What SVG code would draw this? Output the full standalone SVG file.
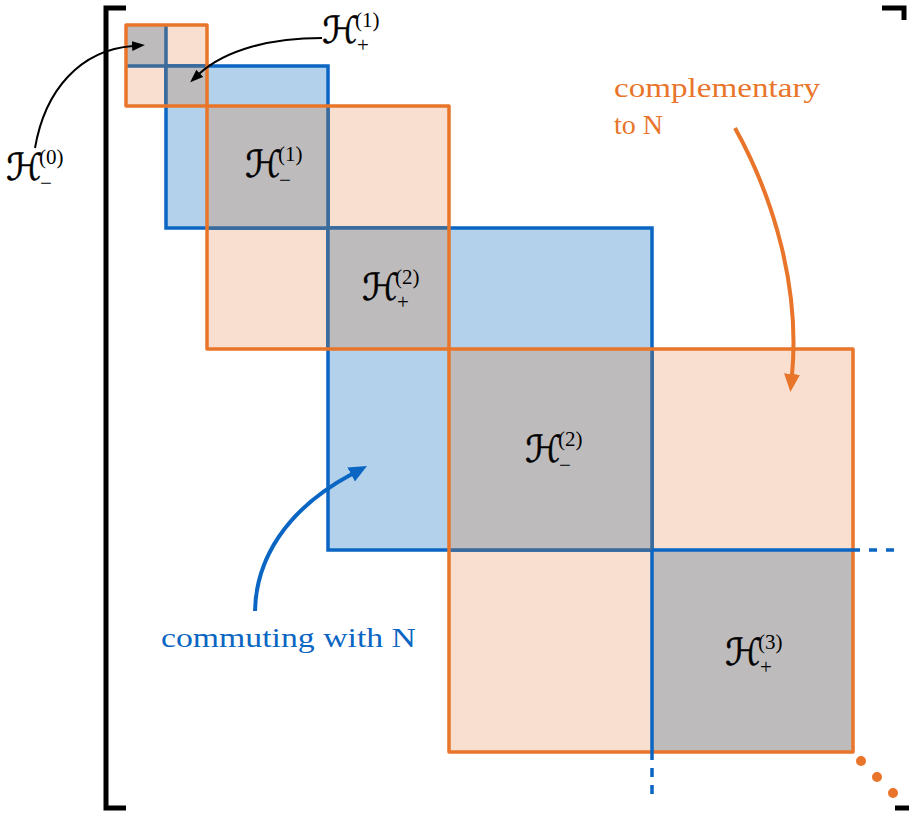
<svg xmlns="http://www.w3.org/2000/svg" width="909" height="816" viewBox="0 0 909 816">
<defs>
<marker id="mb" markerUnits="userSpaceOnUse" markerWidth="20" markerHeight="16" refX="1" refY="8" orient="auto"><path d="M0,0 L18,8 L0,16 z" fill="#0a66c2"/></marker>
<marker id="mo" markerUnits="userSpaceOnUse" markerWidth="20" markerHeight="16" refX="1" refY="8" orient="auto"><path d="M0,0 L18,8 L0,16 z" fill="#e8752a"/></marker>
<marker id="mk" markerUnits="userSpaceOnUse" markerWidth="14" markerHeight="12" refX="1" refY="5" orient="auto"><path d="M0,0 L13,5 L0,10 z" fill="#000"/></marker>
</defs>
<style>
.peach{fill:#f8dfcf}
.lblue{fill:#b3d1ea;stroke:#0a66c2;stroke-width:3.5}
.gray{fill:#bdbbbc}
.muted{stroke:#3a6b9b;stroke-width:3.5;fill:none}
.ostroke{fill:none;stroke:#e8752a;stroke-width:3.5;stroke-linejoin:round}
.bline{stroke:#0a66c2;stroke-width:3.5;fill:none}
.cal{font-family:'DejaVu Serif','DejaVu Sans',serif;font-size:37px;fill:#000;stroke:#000;stroke-width:0.5}
.sup{font-family:'Liberation Serif',serif;font-size:21px;fill:#000}
.sub{font-family:'Liberation Serif',serif;font-size:21px;fill:#000}
.rm{font-family:'Liberation Serif',serif;font-size:28px}
</style>

<g id="bracket" fill="none" stroke="#000" stroke-width="5">
<path d="M126,8 H106 V808 H126"/>
<path d="M882,8 H904 V20"/>
<path d="M895,808 H909"/>
</g>

<g id="orange-block-0"><rect class="peach" x="126" y="25" width="81" height="81"/></g>
<g id="orange-block-1"><rect class="peach" x="207" y="106" width="242" height="243"/></g>
<g id="orange-block-2"><rect class="peach" x="449" y="349" width="404" height="403"/></g>

<g id="blue-block-a"><rect class="lblue" x="166" y="66" width="162" height="162"/></g>
<g id="blue-block-b"><rect class="lblue" x="328" y="228" width="324" height="322"/></g>

<g id="overlaps">
<rect class="gray" x="126" y="25" width="40" height="41"/>
<rect class="gray" x="166" y="66" width="41" height="40"/>
<rect class="gray" x="207" y="106" width="121" height="122"/>
<rect class="gray" x="328" y="228" width="121" height="121"/>
<rect class="gray" x="449" y="349" width="203" height="201"/>
<rect class="gray" x="652" y="550" width="201" height="202"/>
<path class="muted" d="M166,25 V106 M126,66 H207 M207,228 H449 M328,106 V349 M652,349 V550 M449,550 H652"/>
</g>

<g id="orange-outlines">
<rect class="ostroke" x="126" y="25" width="81" height="81"/>
<rect class="ostroke" x="207" y="106" width="242" height="243"/>
<rect class="ostroke" x="449" y="349" width="404" height="403"/>
</g>

<g id="blue-block-c">
<path class="bline" d="M652,550 H860 M652,550 V760"/>
<path class="bline" d="M869,550 H877 M886,550 H894 M652,768 V777 M652,785 V794"/>
</g>

<g id="dots" fill="#e8752a">
<circle cx="861" cy="761" r="5"/>
<circle cx="877" cy="777" r="5"/>
<circle cx="893" cy="793" r="5"/>
</g>

<g id="connectors" fill="none">
<path d="M255,611 C256,560 285,510 352,474" stroke="#0a66c2" stroke-width="4" marker-end="url(#mb)"/>
<path d="M735,128 C775,200 800,290 792,375" stroke="#e8752a" stroke-width="4" marker-end="url(#mo)"/>
<path d="M35,148 C45,90 80,50 133,46" stroke="#000" stroke-width="2" marker-end="url(#mk)"/>
<path d="M322,38 C270,38 225,50 199,74" stroke="#000" stroke-width="2" marker-end="url(#mk)"/>
</g>

<g id="label-hp1"><text class="cal" x="322" y="43">ℋ</text><text class="sup" x="355" y="27">(1)</text><text class="sub" x="357" y="52">+</text></g>
<g id="label-hm0"><text class="cal" x="6" y="180">ℋ</text><text class="sup" x="39" y="164">(0)</text><text class="sub" x="40" y="190">−</text></g>
<g id="label-hm1"><text class="cal" x="245" y="177">ℋ</text><text class="sup" x="278" y="161">(1)</text><text class="sub" x="279" y="187">−</text></g>
<g id="label-hp2"><text class="cal" x="362" y="300">ℋ</text><text class="sup" x="395" y="284">(2)</text><text class="sub" x="397" y="309">+</text></g>
<g id="label-hm2"><text class="cal" x="525" y="462">ℋ</text><text class="sup" x="558" y="446">(2)</text><text class="sub" x="559" y="472">−</text></g>
<g id="label-hp3"><text class="cal" x="725" y="665">ℋ</text><text class="sup" x="758" y="649">(3)</text><text class="sub" x="760" y="674">+</text></g>

<g id="label-complementary" class="rm" fill="#e8752a">
<text x="614" y="97" textLength="206" lengthAdjust="spacingAndGlyphs">complementary</text>
<text x="614" y="134">to N</text>
</g>
<g id="label-commuting" class="rm" fill="#0a66c2">
<text x="161" y="647" textLength="255" lengthAdjust="spacingAndGlyphs">commuting with N</text>
</g>
</svg>
